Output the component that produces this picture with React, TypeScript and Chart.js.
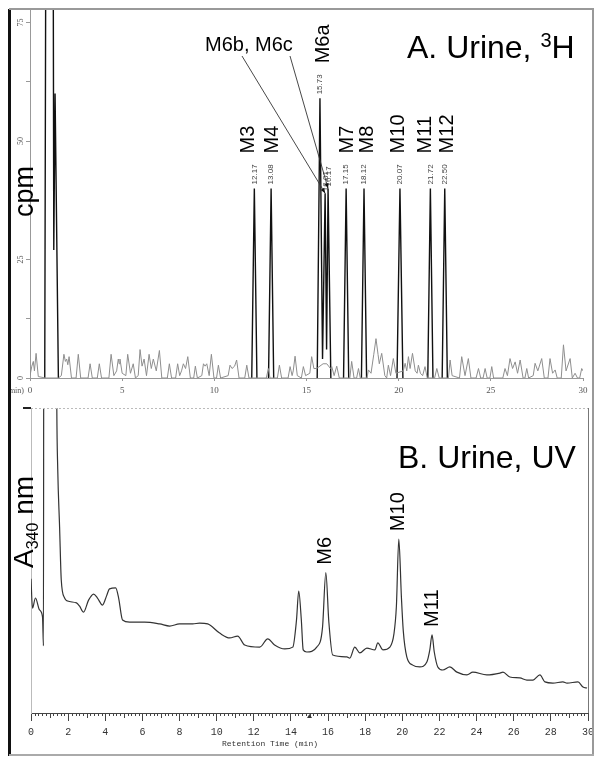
import React, { useEffect, useRef } from 'react';
import { Chart, registerables } from 'chart.js';

Chart.register(...registerables);

// ---------- DATA ----------
// Panel A (3H radioactivity, cpm) : baseline noise trace [min, cpm]
const CPM_NOISE: [number, number][] = [
  [0, 0.5], [0.1, 2.5], [0.18, 3.5], [0.24, 1.5], [0.33, 5.2], [0.45, 0.3], [0.84, 0],
  [1.54, 0], [1.7, 0.5], [1.84, 5.0], [1.92, 3.5], [1.99, 4.0], [2.05, 2.8], [2.12, 4.5], [2.25, 0],
  [2.5, 0], [2.62, 5.0], [2.75, 0],
  [3.15, 0], [3.26, 3.0], [3.38, 0],
  [3.65, 0], [3.76, 3.0], [3.88, 0],
  [4.28, 0], [4.4, 5.0], [4.55, 0.5], [4.7, 1.5], [4.79, 4.0], [4.84, 3.0], [4.88, 4.0], [5.0, 1.0],
  [5.2, 0.5], [5.3, 5.0], [5.45, 1.0], [5.6, 3.0], [5.72, 0],
  [5.87, 0.5], [5.97, 6.0], [6.08, 2.5], [6.19, 4.0], [6.32, 0.5],
  [6.46, 5.0], [6.58, 2.0], [6.69, 4.0], [6.85, 1.5], [7.02, 5.8], [7.15, 0],
  [7.45, 0], [7.56, 3.0], [7.68, 0],
  [7.9, 0], [8.01, 3.0], [8.12, 0.5], [8.22, 1.5], [8.32, 3.0], [8.44, 2.0], [8.56, 4.5], [8.7, 0],
  [8.88, 0], [8.97, 2.5], [9.08, 0],
  [9.32, 0.5], [9.41, 3.0], [9.5, 2.5], [9.59, 3.0], [9.72, 0.5], [9.84, 5.0], [9.98, 0],
  [10.12, 0], [10.22, 2.7], [10.34, 0],
  [10.75, 0.5], [10.85, 2.7], [10.96, 2.0], [11.1, 2.5], [11.21, 3.8], [11.34, 0],
  [11.65, 0], [11.76, 2.7], [11.88, 0],
  [12.82, 0], [12.93, 2.0], [13.02, 0],
  [13.42, 0], [13.53, 2.7], [13.65, 0],
  [14.0, 0], [14.11, 2.4], [14.22, 0.5], [14.28, 1.5], [14.38, 4.6], [14.5, 0.5],
  [14.72, 0], [14.83, 2.4], [14.95, 0.5],
  [15.18, 1.0], [15.28, 4.5], [15.4, 2.0], [15.55, 2.0], [15.9, 3.0], [16.1, 3.0], [16.3, 2.0],
  [16.37, 2.4], [16.5, 0.5], [16.64, 2.5], [16.78, 0],
  [17.35, 0], [17.45, 3.5], [17.58, 0],
  [17.72, 0], [17.82, 2.0], [17.92, 0],
  [18.28, 0], [18.36, 1.7], [18.5, 1.0], [18.65, 5.0], [18.77, 8.3], [18.88, 5.0], [18.95, 3.0],
  [19.08, 5.2], [19.25, 0.5], [19.35, 0], [19.44, 2.7], [19.56, 0.5], [19.71, 4.1], [19.85, 1.0],
  [20.25, 1.5], [20.35, 3.1], [20.44, 1.5], [20.53, 4.5], [20.62, 2.0], [20.75, 5.2], [20.9, 1.5],
  [21.0, 1.0], [21.07, 2.7], [21.18, 1.0], [21.3, 0.5], [21.43, 2.4], [21.55, 0],
  [21.95, 0], [22.07, 2.0], [22.2, 0],
  [22.7, 0], [22.79, 3.8], [22.9, 0.5],
  [23.3, 0], [23.42, 4.5], [23.6, 0.5], [23.78, 4.1], [23.92, 0],
  [24.2, 0], [24.33, 2.0], [24.45, 0], [24.58, 0], [24.69, 2.0], [24.8, 0], [24.95, 0], [25.05, 2.4], [25.15, 0],
  [25.65, 0], [25.77, 2.0], [25.9, 0.5], [26.04, 4.1], [26.18, 2.0], [26.32, 3.4], [26.45, 1.0], [26.59, 3.8], [26.75, 0],
  [26.85, 0], [26.95, 2.0], [27.05, 0],
  [27.3, 0.5], [27.4, 3.1], [27.55, 1.5], [27.76, 4.1], [27.9, 0],
  [28.1, 0], [28.21, 4.1], [28.35, 1.0], [28.49, 1.7], [28.6, 0],
  [28.82, 0], [28.94, 7.0], [29.08, 1.5], [29.3, 4.1], [29.42, 0], [29.57, 1.0], [29.7, 0],
  [29.82, 0], [29.93, 2.0], [30, 1.5],
];

// Panel A : radioactive peaks [min, cpm]; null value = gap between peaks
const CPM_PEAKS: [number, number | null][] = [
  [0.8, 0], [0.88, 130], [1.24, 130], [1.29, 27], [1.36, 60], [1.54, 0], [1.6, null],
  [12.03, 0], [12.17, 40], [12.31, 0], [12.5, null],
  [12.94, 0], [13.08, 40], [13.22, 0], [13.4, null],
  [15.58, 0], [15.73, 59], [15.87, 4], [16.01, 39], [16.09, 6], [16.17, 40], [16.32, 0], [16.5, null],
  [17.01, 0], [17.15, 40], [17.29, 0], [17.5, null],
  [17.98, 0], [18.12, 40], [18.26, 0], [18.5, null],
  [19.91, 0], [20.07, 40], [20.23, 0], [20.5, null],
  [21.58, 0], [21.72, 40], [21.86, 0], [22.0, null],
  [22.36, 0], [22.5, 40], [22.64, 0],
];

const TOP_PEAK_NAMES = ['M3', 'M4', 'M6a', 'M7', 'M8', 'M10', 'M11', 'M12'];
const TOP_PEAK_RT = [12.17, 13.08, 15.73, 17.15, 18.12, 20.07, 21.72, 22.5];
const TOP_PEAK_CPM = [40, 40, 59, 40, 40, 40, 40, 40];
const TOP_RT_LABELS = ['12.17', '13.08', '15.73', '17.15', '18.12', '20.07', '21.72', '22.50'];
const M6BC_RT = [16.01, 16.17];
const M6BC_CPM = [39, 40];
const M6BC_RT_LABELS = ['16.01', '16.17'];
const TOP_Y_TICKS = [0, 12.5, 25, 37.5, 50, 62.5, 75];
const TOP_Y_LABELS = [0, 25, 50, 75];

// Panel B (UV absorbance at 340 nm, relative units) : [min, A340]
const UV_TRACE: [number, number][] = [
  [0, 44], [0.08, 34.4], [0.24, 37.7], [0.46, 33.8], [0.62, 31.5], [0.67, 22], [0.69, 140],
  [1.36, 140], [1.39, 100], [1.44, 80], [1.54, 61], [1.63, 43.6],
  [1.81, 37.7], [1.97, 36.7], [2.45, 36.1], [2.61, 35.1], [2.83, 33.1], [3.1, 37], [3.37, 39.0],
  [3.58, 37.7], [3.85, 35.4], [4.07, 38.4], [4.23, 40.7], [4.56, 41.0], [4.72, 37.7], [4.93, 30.5],
  [5.31, 29.8], [6.12, 29.8], [6.93, 29.2], [7.47, 28.5], [8.0, 29.2], [8.71, 29.2], [9.08, 29.5],
  [9.52, 29.2], [10.16, 26.2], [10.7, 24.6], [11.13, 25.2], [11.51, 22.3], [12.32, 21.6],
  [12.75, 24.3], [13.12, 22.3], [13.67, 21.0], [14.1, 21.6], [14.3, 30.5], [14.42, 40.0],
  [14.56, 30.5], [14.66, 20.7], [14.85, 20.0], [15.39, 21.6], [15.7, 28], [15.88, 46],
  [16.04, 30], [16.25, 19.0], [17.01, 18.4], [17.17, 18.0], [17.44, 21.6], [17.71, 19.7],
  [18.09, 21.3], [18.52, 20.7], [18.68, 23.0], [18.95, 20.7], [19.33, 21.6], [19.55, 26],
  [19.68, 35], [19.81, 57], [19.95, 38], [20.05, 27], [20.24, 18.4], [20.56, 15.7], [20.94, 15.1],
  [21.32, 16.7], [21.48, 20.7], [21.6, 25.6], [21.72, 20], [21.91, 15.1], [22.18, 14.1],
  [22.56, 15.1], [22.94, 13.4], [23.48, 12.5], [23.8, 13.4], [24.55, 12.5], [25.26, 13.1],
  [25.42, 13.4], [25.79, 11.8], [26.33, 11.5], [26.71, 10.8], [27.04, 10.8], [27.41, 12.5],
  [27.68, 10.2], [28.11, 9.8], [28.65, 10.2], [28.87, 9.8], [29.46, 10.2], [29.73, 8.5], [29.95, 8.2],
];

const UV_PEAK_NAMES = ['M6', 'M10', 'M11'];
const UV_PEAK_RT = [15.88, 19.81, 21.6];
const UV_PEAK_ABS = [46, 57, 25.6];

// ---------- STYLE HELPERS ----------
const SANS = '"Liberation Sans", Arial, Helvetica, sans-serif';
const SERIF = '"Liberation Serif", "Times New Roman", serif';
const MONO = '"Liberation Mono", "Courier New", monospace';

const TOP_NAME_DX = [-6, 1, 4, 1, 3, -1, -5, 3];

function vText(ctx: CanvasRenderingContext2D, text: string, x: number, y: number, font: string, color: string, align: CanvasTextAlign = 'left', baseline: CanvasTextBaseline = 'middle') {
  ctx.save();
  ctx.translate(x, y);
  ctx.rotate(-Math.PI / 2);
  ctx.font = font;
  ctx.fillStyle = color;
  ctx.textAlign = align;
  ctx.textBaseline = baseline;
  ctx.fillText(text, 0, 0);
  ctx.restore();
}

function arrow(ctx: CanvasRenderingContext2D, x0: number, y0: number, x1: number, y1: number) {
  ctx.save();
  ctx.strokeStyle = '#333';
  ctx.fillStyle = '#111';
  ctx.lineWidth = 0.9;
  ctx.beginPath();
  ctx.moveTo(x0, y0);
  ctx.lineTo(x1, y1);
  ctx.stroke();
  const a = Math.atan2(y1 - y0, x1 - x0);
  const L = 5, W = 2;
  ctx.beginPath();
  ctx.moveTo(x1, y1);
  ctx.lineTo(x1 - L * Math.cos(a) + W * Math.sin(a), y1 - L * Math.sin(a) - W * Math.cos(a));
  ctx.lineTo(x1 - L * Math.cos(a) - W * Math.sin(a), y1 - L * Math.sin(a) + W * Math.cos(a));
  ctx.closePath();
  ctx.fill();
  ctx.restore();
}

const topPlugin = {
  id: 'topAnnot',
  afterDraw(chart: any) {
    const ctx: CanvasRenderingContext2D = chart.ctx;
    const x = chart.scales.x;
    const y = chart.scales.y;
    // y tick labels (rotated)
    TOP_Y_LABELS.forEach((v) => {
      vText(ctx, String(v), 21, y.getPixelForValue(v), `8px ${SERIF}`, '#555', 'center');
    });
    // "(min)" stub
    ctx.save();
    ctx.font = `8px ${SERIF}`;
    ctx.fillStyle = '#555';
    ctx.textAlign = 'right';
    ctx.textBaseline = 'middle';
    ctx.fillText('min)', 24, 391);
    ctx.restore();
    // cpm label
    vText(ctx, 'cpm', 33, 217, `27px ${SANS}`, '#000', 'left', 'alphabetic');
    // peak labels
    TOP_PEAK_NAMES.forEach((name, i) => {
      const px = x.getPixelForValue(TOP_PEAK_RT[i]);
      const py = y.getPixelForValue(TOP_PEAK_CPM[i]);
      vText(ctx, TOP_RT_LABELS[i], px, py - 4, `8px ${SANS}`, '#444');
      vText(ctx, name, px + TOP_NAME_DX[i], py - 35, `20px ${SANS}`, '#000');
    });
    M6BC_RT.forEach((rt, i) => {
      const px = x.getPixelForValue(rt);
      const py = y.getPixelForValue(M6BC_CPM[i]);
      vText(ctx, M6BC_RT_LABELS[i], px + 1, py - 2, `8px ${SANS}`, '#444');
    });
    // M6b, M6c label with leader arrows
    ctx.save();
    ctx.font = `20px ${SANS}`;
    ctx.fillStyle = '#000';
    ctx.textAlign = 'left';
    ctx.textBaseline = 'alphabetic';
    ctx.fillText('M6b, M6c', 205, 51);
    ctx.restore();
    arrow(ctx, 242, 56, x.getPixelForValue(M6BC_RT[0]), y.getPixelForValue(M6BC_CPM[0]));
    arrow(ctx, 290, 56, x.getPixelForValue(M6BC_RT[1]), y.getPixelForValue(M6BC_CPM[1]));
    // Title
    ctx.save();
    ctx.fillStyle = '#000';
    ctx.textBaseline = 'alphabetic';
    ctx.textAlign = 'left';
    ctx.font = `32px ${SANS}`;
    const t1 = 'A. Urine, ';
    let tx = 407;
    ctx.fillText(t1, tx, 58);
    tx += ctx.measureText(t1).width;
    ctx.font = `20px ${SANS}`;
    ctx.fillText('3', tx, 47);
    tx += ctx.measureText('3').width;
    ctx.font = `32px ${SANS}`;
    ctx.fillText('H', tx, 58);
    ctx.restore();
  },
};

const bottomPlugin = {
  id: 'bottomAnnot',
  afterDraw(chart: any) {
    const ctx: CanvasRenderingContext2D = chart.ctx;
    const x = chart.scales.x;
    const y = chart.scales.y;
    const { left, right, top, bottom } = chart.chartArea;
    ctx.save();
    // top dotted border
    ctx.strokeStyle = '#bbb';
    ctx.lineWidth = 1;
    ctx.setLineDash([2, 2]);
    ctx.beginPath();
    ctx.moveTo(left, top + 0.5);
    ctx.lineTo(right, top + 0.5);
    ctx.stroke();
    ctx.setLineDash([]);
    // right border
    ctx.strokeStyle = '#777';
    ctx.beginPath();
    ctx.moveTo(right + 0.5, top);
    ctx.lineTo(right + 0.5, bottom);
    ctx.stroke();
    // minor ticks on x axis
    ctx.strokeStyle = '#444';
    for (let i = 0; i <= 150; i++) {
      if (i % 10 === 0) continue;
      const len = i % 5 === 0 ? 5 : 3;
      const px = Math.round(x.getPixelForValue(i / 5)) + 0.5;
      ctx.beginPath();
      ctx.moveTo(px, bottom);
      ctx.lineTo(px, bottom + len);
      ctx.stroke();
    }
    // small injection marker
    const mx = x.getPixelForValue(15);
    ctx.fillStyle = '#333';
    ctx.beginPath();
    ctx.moveTo(mx, bottom + 1);
    ctx.lineTo(mx - 2.5, bottom + 5);
    ctx.lineTo(mx + 2.5, bottom + 5);
    ctx.closePath();
    ctx.fill();
    // axis title
    ctx.font = `8px ${MONO}`;
    ctx.fillStyle = '#333';
    ctx.textAlign = 'left';
    ctx.textBaseline = 'middle';
    ctx.fillText('Retention Time (min)', 222, 344);
    // panel title
    ctx.font = `32px ${SANS}`;
    ctx.fillStyle = '#000';
    ctx.textBaseline = 'alphabetic';
    ctx.fillText('B. Urine, UV', 398, 68);
    ctx.restore();
    // peak labels
    UV_PEAK_NAMES.forEach((name, i) => {
      const px = x.getPixelForValue(UV_PEAK_RT[i]);
      const py = y.getPixelForValue(UV_PEAK_ABS[i]);
      vText(ctx, name, px, py - 8, `20px ${SANS}`, '#000');
    });
    // A340 nm label
    ctx.save();
    ctx.translate(33, 168);
    ctx.rotate(-Math.PI / 2);
    ctx.fillStyle = '#000';
    ctx.textAlign = 'left';
    ctx.textBaseline = 'alphabetic';
    ctx.font = `28px ${SANS}`;
    ctx.fillText('A', 0, 0);
    let w = ctx.measureText('A').width;
    ctx.font = `16px ${SANS}`;
    ctx.fillText('340', w, 5);
    w += ctx.measureText('340').width;
    ctx.font = `28px ${SANS}`;
    ctx.fillText(' nm', w, 0);
    ctx.restore();
  },
};

export default function App() {
  const topRef = useRef<HTMLCanvasElement>(null);
  const botRef = useRef<HTMLCanvasElement>(null);

  useEffect(() => {
    const noisePts = CPM_NOISE.map(([t, v]) => ({ x: t, y: v }));
    const peakPts = CPM_PEAKS.map(([t, v]) => ({ x: t, y: v }));
    const uvPts = UV_TRACE.map(([t, v]) => ({ x: t, y: v }));

    const top = new Chart(topRef.current as HTMLCanvasElement, {
      type: 'line',
      data: {
        datasets: [
          { data: noisePts as any, borderColor: '#8e8e8e', borderWidth: 1, pointRadius: 0, tension: 0 },
          { data: peakPts as any, borderColor: '#111', borderWidth: 1.4, pointRadius: 0, tension: 0, spanGaps: false },
        ],
      },
      options: {
        animation: false,
        responsive: false,
        maintainAspectRatio: false,
        events: [],
        layout: { padding: { left: 10, right: 17, top: 10, bottom: 0 } },
        plugins: { legend: { display: false }, tooltip: { enabled: false } },
        scales: {
          x: {
            type: 'linear', min: 0, max: 30,
            ticks: { stepSize: 5, color: '#555', font: { family: SERIF, size: 9 }, padding: 4, maxRotation: 0 },
            grid: { drawOnChartArea: false, tickLength: 3, color: '#999' },
            border: { color: '#999' },
            afterFit: (s: any) => { s.height = 22; s.paddingLeft = 0; s.paddingRight = 0; },
          },
          y: {
            type: 'linear', min: 0, max: 77.64,
            afterBuildTicks: (s: any) => { s.ticks = TOP_Y_TICKS.map((v) => ({ value: v })); },
            ticks: { display: false },
            grid: { drawOnChartArea: false, tickLength: 4, color: '#999' },
            border: { color: '#999' },
            afterFit: (s: any) => { s.width = 20; s.paddingTop = 0; s.paddingBottom = 0; },
          },
        },
      } as any,
      plugins: [topPlugin],
    });

    const bot = new Chart(botRef.current as HTMLCanvasElement, {
      type: 'line',
      data: {
        datasets: [
          { data: uvPts as any, borderColor: '#333', borderWidth: 1.2, pointRadius: 0, cubicInterpolationMode: 'monotone' },
        ],
      },
      options: {
        animation: false,
        responsive: false,
        maintainAspectRatio: false,
        events: [],
        layout: { padding: { left: 10, right: 12, top: 8, bottom: 0 } },
        plugins: { legend: { display: false }, tooltip: { enabled: false } },
        scales: {
          x: {
            type: 'linear', min: 0, max: 30,
            ticks: { stepSize: 2, color: '#333', font: { family: MONO, size: 10 }, padding: 5, maxRotation: 0 },
            grid: { drawOnChartArea: false, tickLength: 8, color: '#444' },
            border: { color: '#444' },
            afterFit: (s: any) => { s.height = 52; s.paddingLeft = 0; s.paddingRight = 0; },
          },
          y: {
            type: 'linear', min: 0, max: 100,
            afterBuildTicks: (s: any) => { s.ticks = [{ value: 100 }]; },
            ticks: { display: false },
            grid: { drawOnChartArea: false, tickLength: 8, color: '#222', lineWidth: 2 },
            border: { color: '#bbb', dash: [2, 2] },
            afterFit: (s: any) => { s.width = 21; s.paddingTop = 0; s.paddingBottom = 0; },
          },
        },
      } as any,
      plugins: [bottomPlugin],
    });

    return () => {
      top.destroy();
      bot.destroy();
    };
  }, []);

  return (
    <div style={{ position: 'absolute', left: 0, top: 0, width: 600, height: 765, background: '#fff', overflow: 'hidden' }}>
      <canvas ref={topRef} width={600} height={400} style={{ position: 'absolute', left: 0, top: 0, display: 'block' }} />
      <canvas ref={botRef} width={600} height={365} style={{ position: 'absolute', left: 0, top: 400, display: 'block' }} />
      <div style={{ position: 'absolute', left: 8, top: 9, width: 3, height: 747, background: '#111' }} />
      <div style={{ position: 'absolute', left: 9, top: 8, width: 585, height: 2, background: '#999' }} />
      <div style={{ position: 'absolute', left: 592, top: 9, width: 2, height: 747, background: '#999' }} />
      <div style={{ position: 'absolute', left: 9, top: 754, width: 585, height: 2, background: '#aaa' }} />
    </div>
  );
}
